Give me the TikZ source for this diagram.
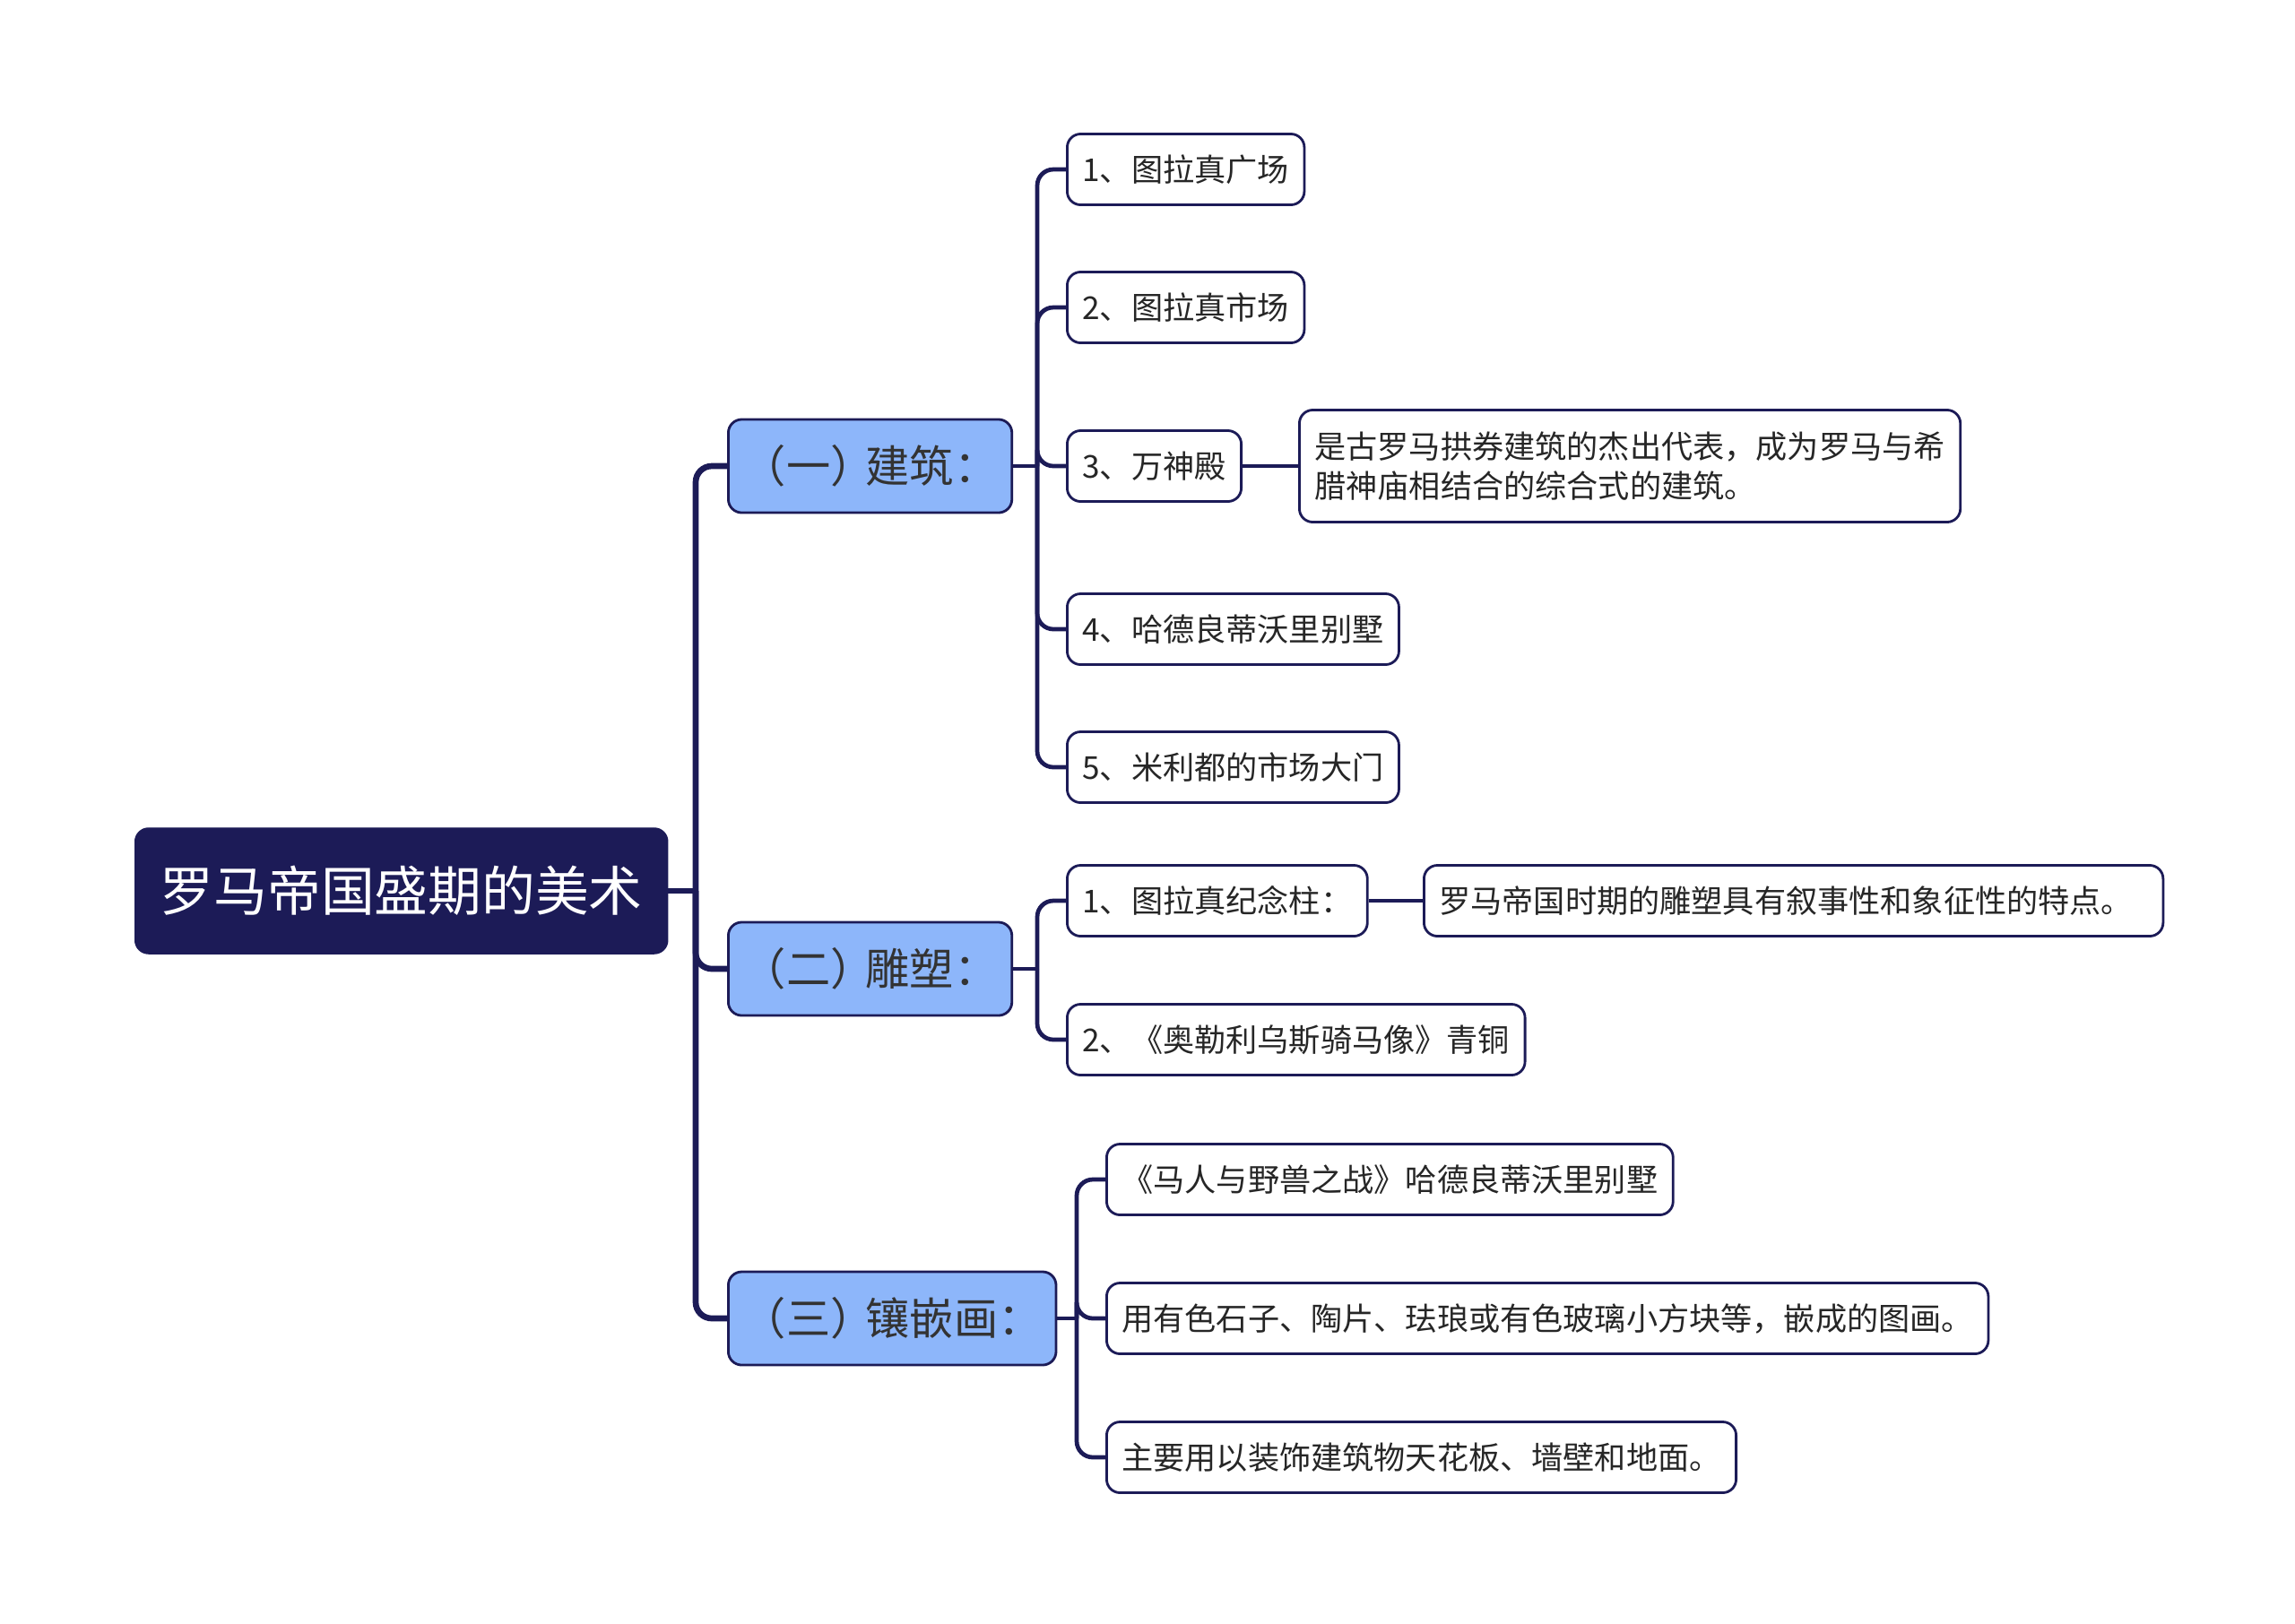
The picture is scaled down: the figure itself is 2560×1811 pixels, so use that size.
\documentclass[tikz,border=0pt]{standalone}
\usepackage{fontspec}
\newfontfamily\cjk{Noto Sans CJK SC}
\newfontfamily\cjkhalt{Noto Sans CJK SC}[RawFeature=+halt]
\definecolor{navy}{HTML}{1C1B57}
\definecolor{topicblue}{HTML}{8DB6FA}
\begin{document}
\begin{tikzpicture}[x=0.01cm,y=-0.01cm]
        \tikzset{
          root/.style={draw=navy,fill=navy,text=white,rounded corners=0.15cm,anchor=west,
            font=\cjk\fontsize{17}{20}\selectfont,inner xsep=0.28cm,minimum height=1.4cm},
          topic/.style={draw=navy,line width=0.8pt,fill=topicblue,text=black!80,rounded corners=0.15cm,
            anchor=west,font=\cjkhalt\fontsize{14}{17}\selectfont,inner xsep=0.4cm,minimum height=1.04cm},
          leaf/.style={draw=navy,line width=0.8pt,fill=white,text=black!85,rounded corners=0.15cm,
            anchor=west,font=\cjk\fontsize{10}{12.5}\selectfont,inner xsep=0.17cm,minimum height=0.79cm,align=left},
          trunk/.style={draw=navy,line width=1.9pt,rounded corners=0.18cm},
          branch/.style={draw=navy,line width=1.35pt,rounded corners=0.18cm}
        }
        \useasboundingbox (0,0) rectangle (2560,1811);
        \node[root] (root) at (150,994) {罗马帝国盛期的美术};
        \node[topic] (arch) at (811,520) {（一）\hspace{0.3em}建筑：};
        \node[topic] (sculp) at (811,1081) {（二）\hspace{0.3em}雕塑：};
        \node[topic] (mosaic) at (811,1471) {（三）\hspace{0.3em}镶嵌画：};
        \node[leaf] (arch1) at (1189,189) {1、图拉真广场};
        \node[leaf] (arch2) at (1189,343) {2、图拉真市场};
        \node[leaf] (arch3) at (1189,520) {3、万神殿};
        \node[leaf] (arch4) at (1189,702) {4、哈德良蒂沃里别墅};
        \node[leaf] (arch5) at (1189,856) {5、米利都的市场大门};
        \node[leaf,minimum height=1.25cm] (arch3d) at (1448,520) {是古罗马拱券建筑的杰出代表，成为罗马与希\\腊神庙相结合的综合式的建筑。};
        \node[leaf] (sculp1) at (1189,1005) {1、图拉真纪念柱：};
        \node[leaf,text width=7.9cm] (sculp1d) at (1587,1005) {罗马帝国时期的雕塑具有叙事性和象征性的特点。};
        \node[leaf] (sculp2) at (1189,1160) {2、《奥勒利乌斯骑马像》青铜};
        \node[leaf] (mosaic1) at (1233,1316) {《马人与野兽之战》哈德良蒂沃里别墅};
        \node[leaf] (mosaic2) at (1233,1471) {用有色石子、陶片、珐琅或有色玻璃小方块等，嵌成的图画。};
        \node[leaf] (mosaic3) at (1233,1626) {主要用以装饰建筑物天花板、墙壁和地面。};
        % connectors
        \coordinate (rootbus) at (776,994);
        \coordinate (archbus) at (1157,520);
        \coordinate (sculpbus) at (1157,1081);
        \coordinate (mosaicbus) at (1201,1471);
        \draw[trunk] (root.east) -- (rootbus);
        \foreach \n in {arch,sculp,mosaic}
          \draw[trunk] (rootbus) |- (\n.west);
        \draw[branch] (arch.east) -- (archbus);
        \foreach \n in {arch1,arch2,arch3,arch4,arch5}
          \draw[branch] (archbus) |- (\n.west);
        \draw[branch] (sculp.east) -- (sculpbus);
        \foreach \n in {sculp1,sculp2}
          \draw[branch] (sculpbus) |- (\n.west);
        \draw[branch] (mosaic.east) -- (mosaicbus);
        \foreach \n in {mosaic1,mosaic2,mosaic3}
          \draw[branch] (mosaicbus) |- (\n.west);
        \draw[branch] (arch3.east) -- (arch3d.west);
        \draw[branch] (sculp1.east) -- (sculp1d.west);
\end{tikzpicture}
\end{document}
